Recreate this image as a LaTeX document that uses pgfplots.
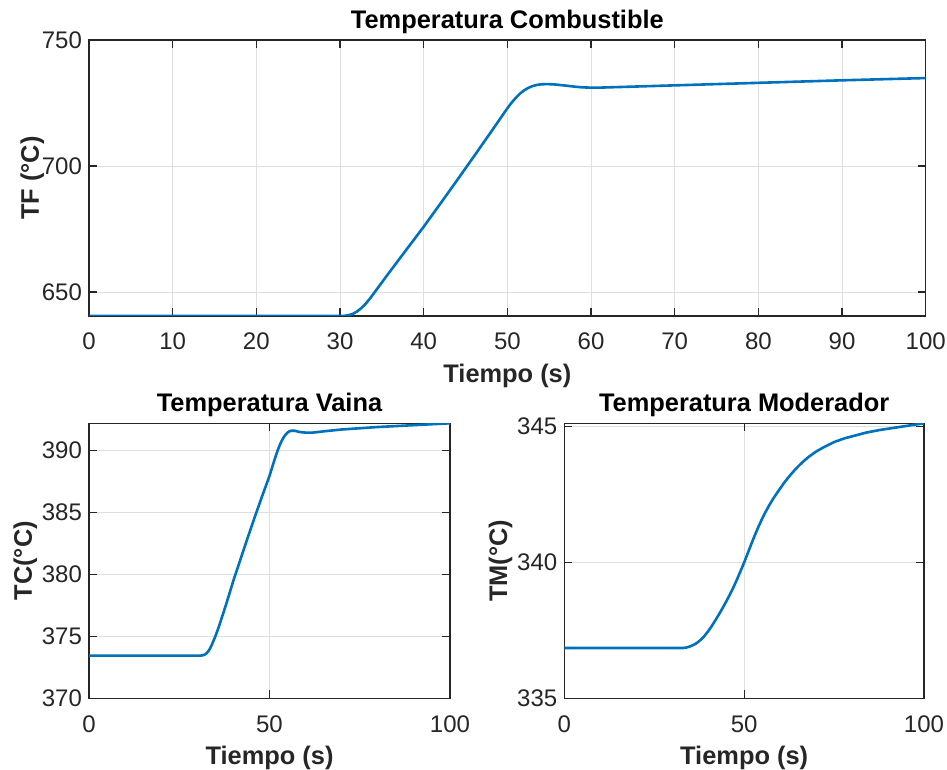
\documentclass[border=0pt]{standalone}
\usepackage{fontspec}
\setmainfont{Liberation Sans}
\usepackage{pgfplots}
\pgfplotsset{compat=1.18}
\definecolor{mblue}{rgb}{0,0.447,0.741}
\definecolor{maxis}{rgb}{0.15,0.15,0.15}
\pgfplotsset{
  mstyle/.style={
    scale only axis,
    anchor=south west,
    axis line style={maxis, line width=0.6pt},
    tick style={maxis, line width=0.6pt},
    tick align=inside,
    major tick length=4pt,
    grid=major,
    grid style={gray!25, line width=0.4pt},
    /pgf/number format/assume math mode=true,
    /pgf/number format/1000 sep={},
    tick label style={font=\fontsize{12}{14}\selectfont, text=maxis},
    xticklabel style={yshift=-5pt},
    label style={font=\bfseries\fontsize{12.7}{15}\selectfont, text=maxis},
    title style={font=\bfseries\fontsize{12.7}{15}\selectfont, yshift=-6.5pt},
    xmin=0, xmax=100,
    xlabel={Tiempo (s)},
  },
  mline/.style={mblue, line width=1.3pt, no markers, line join=round},
}
\begin{document}
\begin{tikzpicture}
\path[use as bounding box] (0,0) rectangle (473.5pt,385pt);
\begin{axis}[mstyle,
  at={(44.5pt,227pt)}, width=418.35pt, height=138pt,
  ymin=640.5, ymax=750, ytick={650,700,750},
  xtick={0,10,...,100},
  title={Temperatura Combustible},
  ylabel={TF (°C)},
  ylabel shift={-8pt},
]
\addplot[mline] coordinates {
(0,640.5) (30,640.5) (30.5,640.55) (31,640.8) (31.5,641.3) (32,642.2) (32.5,643.5) (33,645.1) (33.5,647.1) (34,649.3) (35,653.8) (36,658.3) (38,667.1) (40,675.9) (42,685.1) (44,694.4) (46,703.8) (48,713.3) (50,722.9) (50.5,725.1) (51,727.0) (51.5,728.7) (52,730.0) (52.5,731.0) (53,731.7) (53.5,732.15) (54,732.4) (54.7,732.5) (55.5,732.4) (56,732.25) (57,731.9) (58,731.5) (59,731.2) (60,731.1) (61,731.1) (62,731.2) (65,731.5) (70,732.0) (80,733.0) (90,734.0) (100,734.9)
};
\end{axis}
\begin{axis}[mstyle,
  at={(44.5pt,35.85pt)}, width=180.5pt, height=137.5pt,
  ymin=370, ymax=392.2, ytick={370,375,...,390},
  xtick={0,50,100},
  title={Temperatura Vaina},
  ylabel={TC(°C)},
  ylabel shift={-4.5pt},
]
\addplot[mline] coordinates {
(0,373.45) (31,373.45) (31.5,373.47) (32,373.52) (32.5,373.62) (33,373.78) (33.5,374.0) (34,374.3) (34.5,374.65) (35,375.0) (36,375.8) (38,377.6) (40,379.5) (42,381.25) (44,383.0) (46,384.7) (48,386.35) (50,387.95) (51,388.9) (52,389.8) (52.5,390.2) (53,390.55) (53.5,390.85) (54,391.1) (54.5,391.3) (55,391.45) (55.5,391.55) (56,391.6) (57,391.6) (58,391.52) (59,391.47) (60,391.45) (62,391.45) (65,391.55) (70,391.7) (80,391.9) (90,392.05) (100,392.2)
};
\end{axis}
\begin{axis}[mstyle,
  at={(282.15pt,35.85pt)}, width=179.85pt, height=137.5pt,
  ymin=335, ymax=345.12, ytick={335,340,345},
  xtick={0,50,100},
  title={Temperatura Moderador},
  ylabel={TM(°C)},
  ylabel shift={-4.5pt},
]
\addplot[mline] coordinates {
(0,336.85) (33,336.85) (34,336.87) (35,336.91) (36,336.97) (37,337.05) (38,337.16) (39,337.3) (40,337.47) (41,337.66) (42,337.87) (43,338.09) (44,338.32) (45,338.56) (46,338.81) (47,339.08) (48,339.37) (49,339.68) (50,340.0) (51,340.34) (52,340.68) (53,341.01) (54,341.32) (55,341.61) (56,341.87) (57,342.11) (58,342.33) (59,342.53) (60,342.72) (61,342.91) (62,343.08) (63,343.24) (64,343.39) (65,343.53) (66,343.66) (67,343.78) (68,343.89) (70,344.08) (72,344.23) (75,344.43) (78,344.57) (80,344.64) (84,344.78) (88,344.88) (92,344.96) (96,345.04) (100,345.12)
};
\end{axis}
\end{tikzpicture}
\end{document}
